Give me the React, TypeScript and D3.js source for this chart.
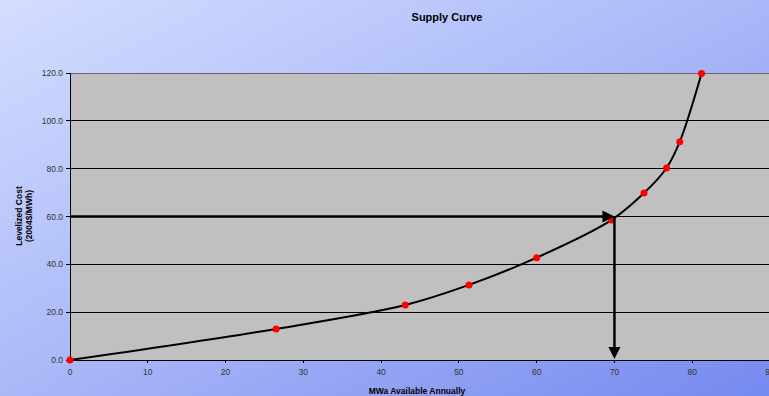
import React from "react";
import * as d3 from "d3";

const xValues = [0, 26.5, 43.1, 51.3, 60.0, 69.6, 73.8, 76.7, 78.4, 81.2];
const yValues = [0, 13.0, 23.0, 31.4, 42.8, 58.5, 69.8, 80.3, 91.3, 119.8];
const xTicks = [0, 10, 20, 30, 40, 50, 60, 70, 80, 90];
const yTicks = [0, 20, 40, 60, 80, 100, 120];
const arrowTarget = { x: 70, y: 60 };

const W = 769;
const H = 396;
const M = { left: 70, top: 73, right: 770, bottom: 360 };

export default function App() {
  const x = d3.scaleLinear().domain([0, 90]).range([M.left, M.right]);
  const y = d3.scaleLinear().domain([0, 120]).range([M.bottom, M.top]);
  const pts: [number, number][] = xValues.map((v, i) => [v, yValues[i]]);
  const line = d3
    .line<[number, number]>()
    .x((d) => x(d[0]))
    .y((d) => y(d[1]))
    .curve(d3.curveCatmullRom.alpha(0.5));

  const ax = x(arrowTarget.x);
  const ay = y(arrowTarget.y);
  const font = "'Liberation Sans', Arial, sans-serif";

  return (
    <svg
      width={W}
      height={H}
      style={{ position: "absolute", left: 0, top: 0, display: "block" }}
    >
      <defs>
        <linearGradient id="bg" x1="0" y1="0" x2="1" y2="1">
          <stop offset="0%" stopColor="#d4deff" />
          <stop offset="50%" stopColor="#aab8f8" />
          <stop offset="100%" stopColor="#7689ef" />
        </linearGradient>
        <clipPath id="clip">
          <rect x={0} y={0} width={W} height={H} />
        </clipPath>
      </defs>
      <rect x={0} y={0} width={W} height={H} fill="url(#bg)" />
      <text
        x={447}
        y={21}
        textAnchor="middle"
        fontFamily={font}
        fontWeight="bold"
        fontSize={11}
        fill="#000"
      >
        Supply Curve
      </text>
      <g clipPath="url(#clip)">
        <rect
          x={M.left}
          y={M.top}
          width={M.right - M.left}
          height={M.bottom - M.top}
          fill="#c0c0c0"
        />
        {yTicks.map((t) => (
          <line
            key={"g" + t}
            x1={M.left}
            x2={M.right}
            y1={y(t)}
            y2={y(t)}
            stroke={t === 120 ? "#666" : "#000"}
            strokeWidth={1}
            shapeRendering="crispEdges"
          />
        ))}
        <line
          x1={M.left}
          x2={M.left}
          y1={M.top}
          y2={M.bottom}
          stroke="#000"
          shapeRendering="crispEdges"
        />
        <line
          x1={M.left}
          x2={M.right}
          y1={M.bottom}
          y2={M.bottom}
          stroke="#000"
          shapeRendering="crispEdges"
        />
        {yTicks.map((t) => (
          <g key={"yt" + t}>
            <line
              x1={M.left - 4}
              x2={M.left}
              y1={y(t)}
              y2={y(t)}
              stroke="#000"
              shapeRendering="crispEdges"
            />
            <text
              x={M.left - 7}
              y={y(t) + 3}
              textAnchor="end"
              fontFamily={font}
              fontSize={8.5}
              fill="#333"
            >
              {t.toFixed(1)}
            </text>
          </g>
        ))}
        {xTicks.map((t) => (
          <g key={"xt" + t}>
            <line
              x1={x(t)}
              x2={x(t)}
              y1={M.bottom}
              y2={M.bottom + 3}
              stroke="#000"
              shapeRendering="crispEdges"
            />
            <text
              x={x(t)}
              y={M.bottom + 15}
              textAnchor="middle"
              fontFamily={font}
              fontSize={8.5}
              fill="#333"
            >
              {t}
            </text>
          </g>
        ))}
        <path d={line(pts) || ""} fill="none" stroke="#000" strokeWidth={2} />
        {pts.map((p, i) => (
          <circle key={i} cx={x(p[0])} cy={y(p[1])} r={3.5} fill="#ff0000" />
        ))}
        <line
          x1={M.left}
          x2={ax - 10}
          y1={ay}
          y2={ay}
          stroke="#000"
          strokeWidth={2.5}
        />
        <path
          d={`M${ax - 12},${ay - 6}L${ax},${ay}L${ax - 12},${ay + 6}Z`}
          fill="#000"
        />
        <line
          x1={ax}
          x2={ax}
          y1={ay}
          y2={M.bottom - 10}
          stroke="#000"
          strokeWidth={2.5}
        />
        <path
          d={`M${ax - 6},${M.bottom - 13}L${ax},${M.bottom - 1}L${ax + 6},${M.bottom - 13}Z`}
          fill="#000"
        />
      </g>
      <text
        x={417}
        y={394}
        textAnchor="middle"
        fontFamily={font}
        fontWeight="bold"
        fontSize={8.5}
        fill="#000"
      >
        MWa Available Annually
      </text>
      <g transform={`translate(22,216) rotate(-90)`}>
        <text
          x={0}
          y={0}
          textAnchor="middle"
          fontFamily={font}
          fontWeight="bold"
          fontSize={8.5}
          fill="#000"
        >
          Levelized Cost
        </text>
        <text
          x={0}
          y={10}
          textAnchor="middle"
          fontFamily={font}
          fontWeight="bold"
          fontSize={8.5}
          fill="#000"
        >
          (2004$/MWh)
        </text>
      </g>
    </svg>
  );
}
